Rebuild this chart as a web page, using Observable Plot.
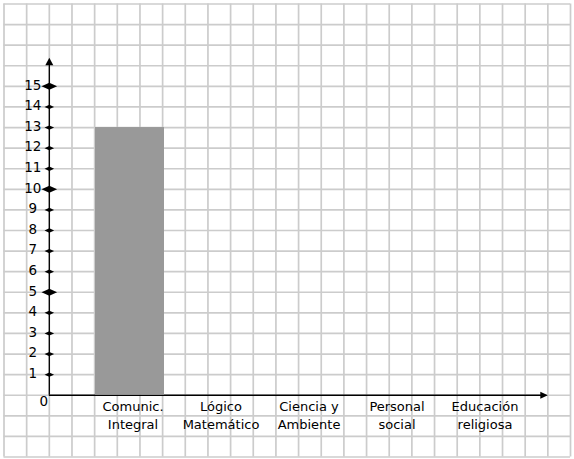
<!DOCTYPE html>
<html><head><meta charset="utf-8">
<script src="https://cdn.jsdelivr.net/npm/d3@7"></script>
<script src="https://cdn.jsdelivr.net/npm/@observablehq/plot@0.6"></script>
<style>
html,body{margin:0;padding:0;background:#fff;}
#chart{position:relative;width:574px;height:459px;}
#chart svg{position:absolute;left:0;top:0;}
</style></head><body><div id="chart"></div>
<script>
// ---- data ----
const categories = ["Comunic.\nIntegral", "Lógico\nMatemático", "Ciencia y\nAmbiente", "Personal\nsocial", "Educación\nreligiosa"];
const values = [13, 0, 0, 0, 0];
const yTicks = [1, 2, 3, 4, 5, 6, 7, 8, 9, 10, 11, 12, 13, 14, 15];
const majorTicks = [5, 10, 15];
const zeroLabel = ["0"];
const gridCols = d3.range(0, 26);   // squared-paper columns
const gridRows = d3.range(-3, 20);  // squared-paper rows (one per unit)

// ---- layout ----
const W = 574, H = 459;
const yDomain = [-3, 19];
const axisCol = 2, xArrowEnd = 24, yArrowEnd = 16.39;
const font = "DejaVu Sans";

const diamond = {draw(ctx, size) {
  const r = Math.sqrt(size / Math.PI), h = r * 0.45;
  ctx.moveTo(-r, 0); ctx.lineTo(0, -h); ctx.lineTo(r, 0); ctx.lineTo(0, h); ctx.closePath();
}};
const headUp = {draw(ctx) {
  ctx.moveTo(0, 0); ctx.lineTo(-4, 7.5); ctx.lineTo(4, 7.5); ctx.closePath();
}};
const headRight = {draw(ctx) {
  ctx.moveTo(0, 0); ctx.lineTo(-7.5, -3.5); ctx.lineTo(-7.5, 3.5); ctx.closePath();
}};

const bars = categories.map((c, i) => ({c, v: values[i]}));
const minorTicks = yTicks.filter(d => !majorTicks.includes(d));

const bg = Plot.plot({
  width: W, height: H,
  marginLeft: 3.5, marginRight: 4, marginTop: 3.5, marginBottom: 2.5,
  x: {domain: [0, 25], axis: null},
  y: {domain: yDomain, axis: null},
  style: {background: "transparent", fontFamily: font},
  marks: [
    Plot.ruleX(gridCols, {stroke: "#cccccc", strokeWidth: 1.7}),
    Plot.ruleY(gridRows, {stroke: "#cccccc", strokeWidth: 1.7}),
    Plot.ruleY([0], {x1: axisCol, x2: xArrowEnd - 0.2, stroke: "#000", strokeWidth: 1.3}),
    Plot.ruleX([axisCol], {y1: 0, y2: yArrowEnd - 0.2, stroke: "#000", strokeWidth: 1.3}),
    Plot.dot([0], {x: xArrowEnd, y: 0, symbol: headRight, fill: "#000", stroke: "none"}),
    Plot.dot([0], {x: axisCol, y: yArrowEnd, symbol: headUp, fill: "#000", stroke: "none"}),
    Plot.dot(minorTicks, {x: axisCol, y: d => d, symbol: diamond, r: 4.8, fill: "#000", stroke: "none"}),
    Plot.dot(majorTicks, {x: axisCol, y: d => d, symbol: diamond, r: 7.8, fill: "#000", stroke: "none"}),
    Plot.text(yTicks, {x: axisCol, y: d => d, text: d => String(d), dx: -16.5, dy: -1, textAnchor: "middle", fontSize: 13.5, fill: "#000"}),
    Plot.text(zeroLabel, {x: axisCol, y: 0, text: d => d, dx: -5.5, dy: 6.5, textAnchor: "middle", fontSize: 13.5, fill: "#000"})
  ]
});

const fg = Plot.plot({
  width: W, height: H,
  marginLeft: 94.5, marginRight: 58.5, marginTop: 3.5, marginBottom: 2.5,
  x: {domain: categories, axis: null, paddingInner: 0.216, paddingOuter: 0},
  y: {domain: yDomain, axis: null},
  style: {background: "transparent", fontFamily: font},
  marks: [
    Plot.barY(bars, {x: "c", y: "v", fill: "#999999"}),
    Plot.text(categories, {x: d => d, y: 0, text: d => d, lineAnchor: "top", dx: 3, dy: 3, fontSize: 13, lineHeight: 1.38, fill: "#000"})
  ]
});

const el = document.getElementById("chart");
el.appendChild(bg);
el.appendChild(fg);
</script>
</body></html>
